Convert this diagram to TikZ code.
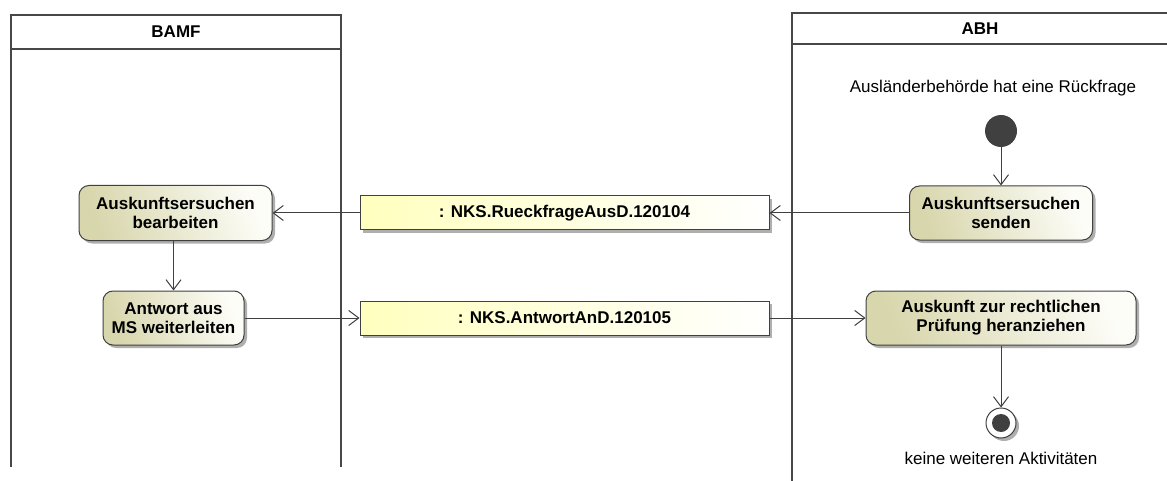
\documentclass[tikz,border=0pt]{standalone}
\usepackage{fontspec}
\setmainfont{Liberation Sans}
\usetikzlibrary{arrows.meta,shadows}
\definecolor{lanec}{HTML}{474747}
\definecolor{edgec}{HTML}{404040}
\definecolor{actdark}{RGB}{216,214,172}
\definecolor{actlight}{RGB}{253,253,248}
\definecolor{objdark}{RGB}{255,255,190}
\definecolor{shadowc}{RGB}{175,175,175}
\begin{document}
\begin{tikzpicture}[x=1pt,y=-1pt,
  font=\fontsize{17}{19}\selectfont,
  lanel/.style={draw=lanec,line width=2.2pt},
  myshadow/.style={drop shadow={shadow xshift=3pt,shadow yshift=-3pt,fill=shadowc,opacity=1}},
  action/.style={draw=edgec,line width=1pt,rounded corners=10pt,
    left color=actdark,right color=actlight,shading angle=110,
    align=center,font=\fontsize{17}{19}\selectfont\bfseries,inner sep=0pt,myshadow},
  objnode/.style={draw=edgec,line width=1pt,rectangle,
    left color=objdark,right color=white,
    minimum width=409pt,minimum height=34pt,
    font=\fontsize{17}{19}\selectfont\bfseries,inner sep=0pt,myshadow},
  flow/.style={draw=edgec,line width=1pt,-{Straight Barb[length=10pt,width=15pt,line width=1pt]}},
  initial/.style={circle,fill=edgec,minimum size=32pt,inner sep=0pt},
  finalout/.style={circle,draw=edgec,line width=1pt,fill=white,minimum size=30pt,inner sep=0pt,myshadow},
  finalin/.style={circle,fill=edgec,minimum size=18pt,inner sep=0pt},
  plain/.style={inner sep=0pt,font=\fontsize{17}{19}\selectfont}
]
\useasboundingbox (0,0) rectangle (1167,481);
% swimlanes
\draw[lanel] (11,467) -- (11,15) -- (341,15) -- (341,467);
\draw[lanel] (11,49) -- (341,49);
\draw[lanel] (792,481) -- (792,13) -- (1170,13);
\draw[lanel] (792,44) -- (1170,44);
\node[plain,font=\fontsize{17}{19}\selectfont\bfseries] (bamf) at (176,32) {BAMF};
\node[plain,font=\fontsize{17}{19}\selectfont\bfseries] (abh) at (980,29) {ABH};

% nodes
\node[plain] (startlbl) at (993,88) {Ausländerbehörde hat eine Rückfrage};
\node[initial] (start) at (1001,131) {};
\node[action,minimum width=183pt,minimum height=54pt] (senden) at (1001,213) {Auskunftsersuchen\\senden};
\node[objnode] (obj1) at (564.5,213) {: NKS.RueckfrageAusD.120104};
\node[action,minimum width=193pt,minimum height=55pt] (bearb) at (175.5,213) {Auskunftsersuchen\\bearbeiten};
\node[action,minimum width=141pt,minimum height=54pt] (antw) at (173.5,318) {Antwort aus\\MS weiterleiten};
\node[objnode] (obj2) at (564.5,318) {: NKS.AntwortAnD.120105};
\node[action,minimum width=270pt,minimum height=54pt] (pruef) at (1001,318) {Auskunft zur rechtlichen\\Prüfung heranziehen};
\node[finalout] (endo) at (1001,423) {};
\node[finalin] (endi) at (endo) {};
\node[plain] (endlbl) at (1001,458) {keine weiteren Aktivitäten};

% edges
\draw[flow] (start) -- (senden);
\draw[flow] (senden) -- (obj1);
\draw[flow] (obj1) -- (bearb);
\draw[flow] (bearb.south -| antw.north) -- (antw.north);
\draw[flow] (antw) -- (obj2);
\draw[flow] (obj2) -- (pruef);
\draw[flow] (pruef) -- (endo);
\end{tikzpicture}
\end{document}
